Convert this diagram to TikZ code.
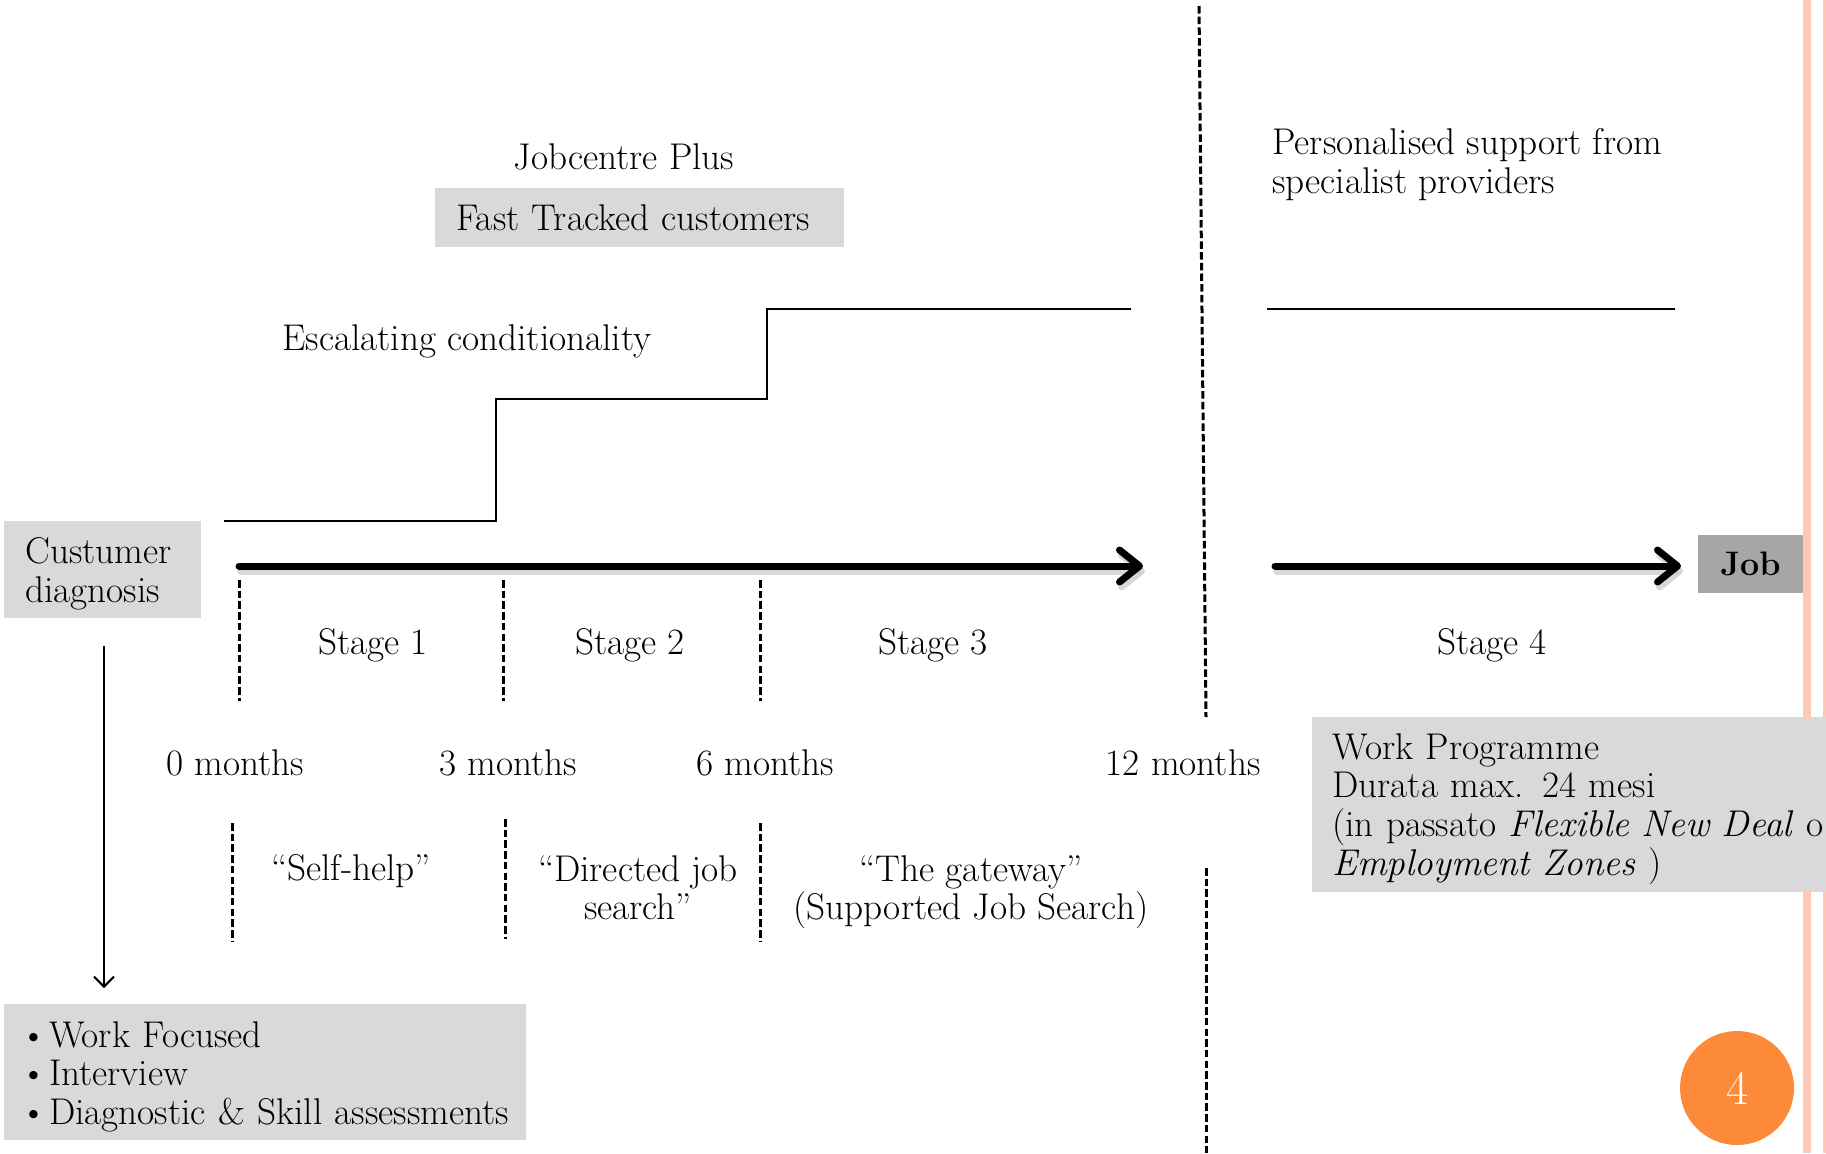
\documentclass[tikz,border=0pt]{standalone}
\usetikzlibrary{arrows.meta}
\definecolor{boxgray}{RGB}{217,217,217}
\definecolor{jobgray}{RGB}{166,166,166}
\definecolor{pinkline}{RGB}{253,200,180}
\definecolor{orangec}{RGB}{253,138,57}
\begin{document}
\begin{tikzpicture}[x=0.5pt,y=-0.5pt,
  fnt/.style={font=\fontsize{18.6pt}{19.3pt}\selectfont},
  txt/.style={fnt, inner sep=0pt},
  graybox/.style={fnt, fill=boxgray, inner ysep=0pt, anchor=north west, align=left},
  multibox/.style={graybox, execute at begin node={\rule{0pt}{17pt}}},
  dashv/.style={line width=1.5pt, dash pattern=on 3.75pt off 1.6pt},
  bigarrow/.style={line width=3.5pt, line cap=round, -{Straight Barb[length=10pt,width=16pt,round]}},
  shadowarrow/.style={bigarrow, draw=black!22, opacity=0.7},
  steprule/.style={line width=1pt},
  thinarrow/.style={line width=1pt, -{Straight Barb[length=5pt,width=10pt]}}
]
\useasboundingbox (0,0) rectangle (1826,1153);
% slide border lines
\fill[pinkline] (1803,0) rectangle (1811,1153);
\fill[pinkline] (1823,0) rectangle (1826,1153);

% titles
\node[txt, anchor=base] (jcp) at (624,169) {Jobcentre Plus};
\node[graybox, minimum width=204.5pt, minimum height=29.5pt, inner xsep=10.5pt, text width=183.5pt] (ftc) at (435,188) {\mbox{Fast Tracked customers}};
\node[txt, anchor=base west] (esc) at (282,350) {Escalating conditionality};
\node[txt, anchor=north west, align=left] (pers) at (1272,128) {Personalised support from\\specialist providers};

% escalating steps
\coordinate (s0) at (224,521);
\coordinate (s1) at (496,399);
\coordinate (s2) at (767,309);
\coordinate (s3) at (1131,309);
\draw[steprule] (s0) -| (s1) -| (s2) -- (s3);
\coordinate (r0) at (1267,309);
\coordinate (r1) at (1675,309);
\draw[steprule] (r0) -- (r1);

% boxes
\node[multibox, minimum width=98.5pt, minimum height=48.5pt, inner xsep=10.5pt, text width=77.5pt] (cd) at (4,521) {Custumer\\diagnosis};
\node[font=\fontsize{17pt}{19pt}\selectfont\bfseries, fill=jobgray, minimum width=52.5pt, minimum height=29pt, inner sep=0pt] (job) at (1750.5,564) {Job};

% main arrows
\coordinate (a0) at (239,566);
\coordinate (a1) at (1143,566);
\coordinate (b0) at (1275,566);
\coordinate (b1) at (1681,566);
\draw[shadowarrow] ([xshift=1pt,yshift=-2.5pt]a0) -- ([xshift=1pt,yshift=-2.5pt]a1);
\draw[shadowarrow] ([xshift=1pt,yshift=-2.5pt]b0) -- ([xshift=1pt,yshift=-2.5pt]b1);
\draw[bigarrow] (a0) -- (a1);
\draw[bigarrow] (b0) -- (b1);

% dashed separators
\draw[dashv] (239,580) -- (239,701);
\draw[dashv] (503,580) -- (503,701);
\draw[dashv] (760,580) -- (760,701);
\draw[dashv] (232,823) -- (232,941);
\draw[dashv] (505,819) -- (505,939);
\draw[dashv] (760,823) -- (760,941);
\draw[dashv] (1199,6) -- (1206,717);
\draw[dashv] (1206,868) -- (1206,1153);

% stage labels
\node[txt, anchor=base] (st1) at (373,654) {Stage 1};
\node[txt, anchor=base] (st2) at (630,654) {Stage 2};
\node[txt, anchor=base] (st3) at (933,654) {Stage 3};
\node[txt, anchor=base] (st4) at (1492,654) {Stage 4};

% months
\node[txt, anchor=base] (m0) at (235,775) {0 months};
\node[txt, anchor=base] (m3) at (508,775) {3 months};
\node[txt, anchor=base] (m6) at (765,775) {6 months};
\node[txt, anchor=base] (m12) at (1183,775) {12 months};

% phase names
\node[txt, anchor=base] (sh) at (351,880) {“Self-help”};
\node[txt, anchor=north, align=center] (djs) at (638,855) {“Directed job\\search”};
\node[txt, anchor=north, align=center] (gw) at (971,855) {“The gateway”\\(Supported Job Search)};

% work programme
\node[multibox, minimum width=257pt, minimum height=87.5pt, inner xsep=10pt, text width=237pt] (wp) at (1312,717) {Work Programme\\Durata max. 24 mesi\\\mbox{(in passato \textit{Flexible New Deal} o}\\\textit{Employment Zones} )};

% diagnosis arrow and list
\coordinate (d0) at (104,646);
\coordinate (d1) at (104,988);
\draw[thinarrow] (d0) -- (d1);
\node[multibox, minimum width=261pt, minimum height=68pt, inner xsep=8pt, text width=245pt] (wf) at (4,1004) {\textbullet\kern1pt Work Focused\\\textbullet\kern1pt Interview\\\mbox{\textbullet\kern1pt Diagnostic \& Skill assessments}};

% page number
\node[font=\fontsize{24pt}{24pt}\selectfont, circle, fill=orangec, minimum size=57pt, inner sep=0pt, text=white] (pg) at (1737,1088) {4};
\end{tikzpicture}
\end{document}
